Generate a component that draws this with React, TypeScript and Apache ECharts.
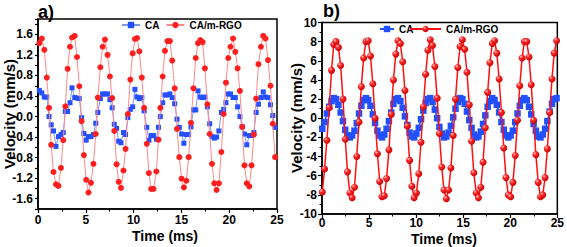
import React, { useEffect, useRef } from "react";
import * as echarts from "echarts";

// ---------- panel a) ----------
const timeA = [
  0.14, 0.4, 0.66, 0.92, 1.15, 1.38, 1.62, 1.88, 2.14, 2.4,
  2.64, 2.86, 3.1, 3.35, 3.56, 3.84, 4.08, 4.32, 4.56, 4.8,
  5.04, 5.28, 5.54, 5.8, 6.04, 6.26, 6.52, 6.76, 7.0, 7.28,
  7.52, 7.76, 7.98, 8.22, 8.44, 8.68, 8.94, 9.16, 9.4, 9.66,
  9.9, 10.14, 10.36, 10.6, 10.86, 11.1, 11.38, 11.6, 11.84, 12.08,
  12.38, 12.6, 12.8, 13.04, 13.28, 13.54, 13.8, 14.04, 14.3, 14.54,
  14.78, 15.02, 15.26, 15.52, 15.76, 16.0, 16.26, 16.5, 16.74, 16.98,
  17.22, 17.46, 17.72, 17.96, 18.2, 18.44, 18.68, 18.92, 19.18, 19.42,
  19.66, 19.9, 20.14, 20.4, 20.64, 20.88, 21.12, 21.36, 21.6, 21.84,
  22.1, 22.34, 22.58, 22.82, 23.06, 23.32, 23.56, 23.8, 24.06, 24.32,
  24.56, 24.8,
];
const rgoA = [
  1.43, 1.52, 1.3, 0.76, 0.17, -0.55, -1.08, -1.32, -1.35, -1.0,
  -0.46, 0.2, 0.93, 1.36, 1.54, 1.57, 1.16, 0.59, -0.09, -0.75,
  -1.23, -1.48, -1.29, -0.92, -0.34, 0.37, 0.96, 1.36, 1.5, 1.2,
  0.78, 0.36, -0.28, -0.93, -1.27, -1.39, -1.05, -0.63, 0.05, 0.72,
  1.23, 1.51, 1.53, 1.27, 0.76, 0.17, -0.53, -1.1, -1.41, -1.41,
  -1.07, -0.45, 0.17, 0.78, 1.28, 1.47, 1.47, 1.09, 0.55, -0.24,
  -0.79, -1.21, -1.38, -1.25, -0.79, -0.12, 0.55, 1.14, 1.43, 1.49,
  1.45, 0.94, 0.24, -0.34, -0.92, -1.3, -1.43, -1.3, -0.69, 0.05,
  0.66, 1.14, 1.36, 1.52, 1.26, 0.94, 0.5, -0.2, -0.95, -1.3,
  -1.36, -0.95, -0.35, 0.35, 1.02, 1.36, 1.57, 1.52, 1.1, 0.6,
  -0.14, -0.79,
];
const caA = [
  0.51, 0.46, 0.38, 0.38, 0.0, -0.16, -0.28, -0.58, -0.39, -0.35,
  -0.31, 0.1, 0.1, 0.27, 0.56, 0.37, 0.36, 0.35, -0.02, -0.33,
  -0.46, -0.39, -0.39, -0.35, -0.13, 0.08, 0.35, 0.44, 0.44, 0.44,
  0.33, 0.17, -0.15, -0.23, -0.48, -0.51, -0.31, -0.35, -0.02, 0.14,
  0.19, 0.53, 0.38, 0.35, 0.37, 0.11, -0.21, -0.46, -0.37, -0.37,
  -0.44, -0.21, 0.0, 0.27, 0.42, 0.42, 0.44, 0.37, 0.25, -0.05,
  -0.21, -0.34, -0.52, -0.35, -0.35, -0.2, 0.13, 0.13, 0.5, 0.38,
  0.37, 0.38, 0.19, -0.14, -0.39, -0.42, -0.4, -0.28, 0.08, 0.14,
  0.27, 0.44, 0.44, 0.37, 0.37, 0.19, 0.0, -0.2, -0.34, -0.55,
  -0.37, -0.37, -0.31, 0.08, 0.24, 0.37, 0.48, 0.38, 0.37, 0.23,
  0.02, -0.21,
];

// ---------- panel b) ----------
const timeB = [
  0.03, 0.27, 0.52, 0.76, 1.01, 1.25, 1.49, 1.74, 1.98, 2.23,
  2.47, 2.71, 2.96, 3.2, 3.45, 3.69, 3.93, 4.18, 4.42, 4.67,
  4.91, 5.15, 5.4, 5.64, 5.89, 6.13, 6.37, 6.62, 6.86, 7.11,
  7.35, 7.59, 7.84, 8.08, 8.33, 8.57, 8.81, 9.06, 9.3, 9.55,
  9.79, 10.03, 10.28, 10.52, 10.77, 11.01, 11.25, 11.5, 11.74, 11.99,
  12.23, 12.47, 12.72, 12.96, 13.21, 13.45, 13.69, 13.94, 14.18, 14.43,
  14.67, 14.91, 15.16, 15.4, 15.65, 15.89, 16.13, 16.38, 16.62, 16.87,
  17.11, 17.35, 17.6, 17.84, 18.09, 18.33, 18.57, 18.82, 19.06, 19.31,
  19.55, 19.79, 20.04, 20.28, 20.53, 20.77, 21.01, 21.26, 21.5, 21.75,
  21.99, 22.23, 22.48, 22.72, 22.97, 23.21, 23.45, 23.7, 23.94, 24.19,
  24.43, 24.67, 24.92,
];
const rgoB = [
  -7.7, -5.3, -2.3, 1.1, 5.0, 7.7, 8.0, 7.4, 5.5, 2.0,
  -2.2, -5.6, -7.8, -8.3, -7.2, -4.0, -0.4, 3.3, 6.3, 8.0,
  8.1, 6.5, 3.6, 0.0, -3.7, -6.6, -8.2, -8.1, -6.3, -3.3,
  0.4, 4.0, 6.7, 8.1, 7.8, 5.9, 2.9, -0.8, -4.4, -7.1,
  -8.3, -7.8, -5.8, -2.5, 1.2, 4.6, 7.1, 8.2, 7.6, 5.4,
  2.1, -1.6, -5.1, -7.5, -8.4, -7.5, -5.2, -1.8, 2.0, 5.3,
  7.5, 8.2, 7.2, 4.8, 1.4, -2.4, -5.7, -7.8, -8.3, -7.2,
  -4.6, -1.0, 2.7, 5.8, 7.8, 8.1, 6.8, 4.1, 0.6, -3.1,
  -6.2, -8.0, -8.2, -6.7, -3.9, -0.2, 3.4, 6.3, 8.0, 8.0,
  6.4, 3.5, -0.2, -3.8, -6.7, -8.2, -8.0, -6.2, -3.2, 0.6,
  4.1, 6.8, 8.1,
];
const caB = [
  -1.1, -0.4, 0.5, 1.2, 1.8, 2.1, 2.0, 1.4, 0.6, -0.3,
  -1.2, -1.8, -2.0, -1.8, -1.3, -0.5, 0.5, 1.3, 1.9, 2.1,
  1.9, 1.3, 0.4, -0.5, -1.3, -1.8, -2.0, -1.7, -1.1, -0.3,
  0.6, 1.5, 2.0, 2.1, 1.8, 1.1, 0.2, -0.7, -1.5, -1.9,
  -2.0, -1.6, -1.0, -0.1, 0.8, 1.6, 2.0, 2.1, 1.7, 0.9,
  0.0, -0.9, -1.6, -2.0, -1.9, -1.5, -0.8, 0.1, 1.0, 1.7,
  2.1, 2.0, 1.5, 0.7, -0.2, -1.0, -1.7, -2.0, -1.9, -1.4,
  -0.6, 0.3, 1.2, 1.8, 2.1, 1.9, 1.4, 0.6, -0.4, -1.2,
  -1.8, -2.0, -1.8, -1.3, -0.4, 0.5, 1.3, 1.9, 2.1, 1.9,
  1.2, 0.4, -0.6, -1.3, -1.9, -2.0, -1.7, -1.1, -0.3, 0.7,
  1.5, 2.0, 2.1,
];

const FONT = "'Liberation Sans', Arial, Helvetica, sans-serif";

export default function App() {
  const ref = useRef<HTMLDivElement>(null);

  useEffect(() => {
    if (!ref.current) return;
    const chart = echarts.init(ref.current, null, { renderer: "svg" });

    const axisLine = { show: true, onZero: false, lineStyle: { color: "#000", width: 1.5 } };
    const axisTick = { show: true, inside: false, length: 4, lineStyle: { color: "#000", width: 1.2 } };
    const minorTick = { show: true, splitNumber: 2, length: 2.5, lineStyle: { color: "#000", width: 1 } };
    const labelStyle = { color: "#000", fontFamily: FONT, fontWeight: "bold" as const, fontSize: 12 };
    const legendText = { color: "#000", fontFamily: FONT, fontWeight: "bold" as const, fontSize: 10 };
    const strip = (n: string) => n.split("|")[0];

    const ball = {
      type: "radial",
      x: 0.35,
      y: 0.32,
      r: 0.7,
      colorStops: [
        { offset: 0, color: "#ffd6d6" },
        { offset: 0.35, color: "#ff2a2a" },
        { offset: 1, color: "#c80000" },
      ],
    };

    const option: any = {
      animation: false,
      backgroundColor: "#fff",
      textStyle: { fontFamily: FONT },
      grid: [
        { left: 38, top: 19, width: 239, height: 190, show: true, borderColor: "#000", borderWidth: 1.5, backgroundColor: "transparent" },
        { left: 322, top: 22.5, width: 236, height: 191.5, show: true, borderColor: "#000", borderWidth: 1.5, backgroundColor: "transparent" },
      ],
      xAxis: [
        {
          gridIndex: 0, type: "value", min: 0, max: 25, interval: 5,
          axisLine, axisTick, minorTick, splitLine: { show: false }, minorSplitLine: { show: false },
          axisLabel: { ...labelStyle, margin: 5 },
        },
        {
          gridIndex: 1, type: "value", min: 0, max: 25, interval: 5,
          axisLine, axisTick, minorTick, splitLine: { show: false }, minorSplitLine: { show: false },
          axisLabel: { ...labelStyle, margin: 3 },
        },
      ],
      yAxis: [
        {
          gridIndex: 0, type: "value", min: -1.8, max: 1.9, interval: 0.2,
          axisLine, axisTick: { ...axisTick, length: 3 }, splitLine: { show: false },
          axisLabel: {
            ...labelStyle,
            margin: 5,
            formatter: (v: number) => {
              const k = Math.round(v * 10);
              return k % 4 === 0 ? (k / 10).toFixed(1) : "";
            },
          },
        },
        {
          gridIndex: 1, type: "value", min: -10, max: 10, interval: 2,
          axisLine, axisTick, minorTick, splitLine: { show: false }, minorSplitLine: { show: false },
          axisLabel: { ...labelStyle, margin: 5 },
        },
      ],
      legend: [
        {
          left: 121, top: 20, padding: 0, itemWidth: 18, itemHeight: 8, itemGap: 6,
          textStyle: legendText, selectedMode: false, formatter: strip,
          data: ["CA|a", "CA/m-RGO|a"],
        },
        {
          left: 379, top: 24, padding: 0, itemWidth: 14, itemHeight: 8,
          textStyle: legendText, selectedMode: false, formatter: strip,
          data: ["CA|b"],
        },
        {
          left: 409, top: 24, padding: 0, itemWidth: 31, itemHeight: 8,
          textStyle: legendText, selectedMode: false, formatter: strip,
          data: ["CA/m-RGO|b"],
        },
      ],
      series: [
        {
          name: "CA|a", type: "line", xAxisIndex: 0, yAxisIndex: 0, z: 2,
          data: timeA.map((t, i) => [t, caA[i]]),
          symbol: "rect", symbolSize: 5, showSymbol: true,
          lineStyle: { color: "#7e98f2", width: 1 },
          itemStyle: { color: "#2450ff" },
        },
        {
          name: "CA/m-RGO|a", type: "line", xAxisIndex: 0, yAxisIndex: 0, z: 3,
          data: timeA.map((t, i) => [t, rgoA[i]]),
          symbol: "circle", symbolSize: 6, showSymbol: true,
          lineStyle: { color: "#ff8a8a", width: 1 },
          itemStyle: { color: "#ff1f1f" },
        },
        {
          name: "CA|b", type: "line", xAxisIndex: 1, yAxisIndex: 1, z: 2,
          data: timeB.map((t, i) => [t, caB[i]]),
          symbol: "rect", symbolSize: 6.5, showSymbol: true,
          lineStyle: { color: "#2050ff", width: 1.5 },
          itemStyle: { color: "#2050ff" },
        },
        {
          name: "CA/m-RGO|b", type: "line", xAxisIndex: 1, yAxisIndex: 1, z: 3,
          data: timeB.map((t, i) => [t, rgoB[i]]),
          symbol: "circle", symbolSize: 7, showSymbol: true,
          lineStyle: { color: "#ff1010", width: 1.5 },
          itemStyle: { color: ball },
        },
      ],
      graphic: [
        { type: "text", x: 38, y: 12, style: { text: "a)", fill: "#000", font: `bold 18px ${FONT}`, align: "left", verticalAlign: "middle" } },
        { type: "text", x: 323, y: 11, style: { text: "b)", fill: "#000", font: `bold 18px ${FONT}`, align: "left", verticalAlign: "middle" } },
        { type: "text", x: 9, y: 114, rotation: Math.PI / 2, style: { text: "Velocity (mm/s)", fill: "#000", font: `bold 15px ${FONT}`, align: "center", verticalAlign: "middle" } },
        { type: "text", x: 296, y: 118, rotation: Math.PI / 2, style: { text: "Velocity (mm/s)", fill: "#000", font: `bold 15px ${FONT}`, align: "center", verticalAlign: "middle" } },
        { type: "text", x: 165, y: 236, style: { text: "Time (ms)", fill: "#000", font: `bold 14px ${FONT}`, align: "center", verticalAlign: "middle" } },
        { type: "text", x: 444, y: 239, style: { text: "Time (ms)", fill: "#000", font: `bold 14px ${FONT}`, align: "center", verticalAlign: "middle" } },
      ],
    };

    chart.setOption(option);
    return () => chart.dispose();
  }, []);

  return (
    <div
      ref={ref}
      style={{ position: "fixed", left: 0, top: 0, width: 567, height: 247, background: "#fff" }}
    />
  );
}
